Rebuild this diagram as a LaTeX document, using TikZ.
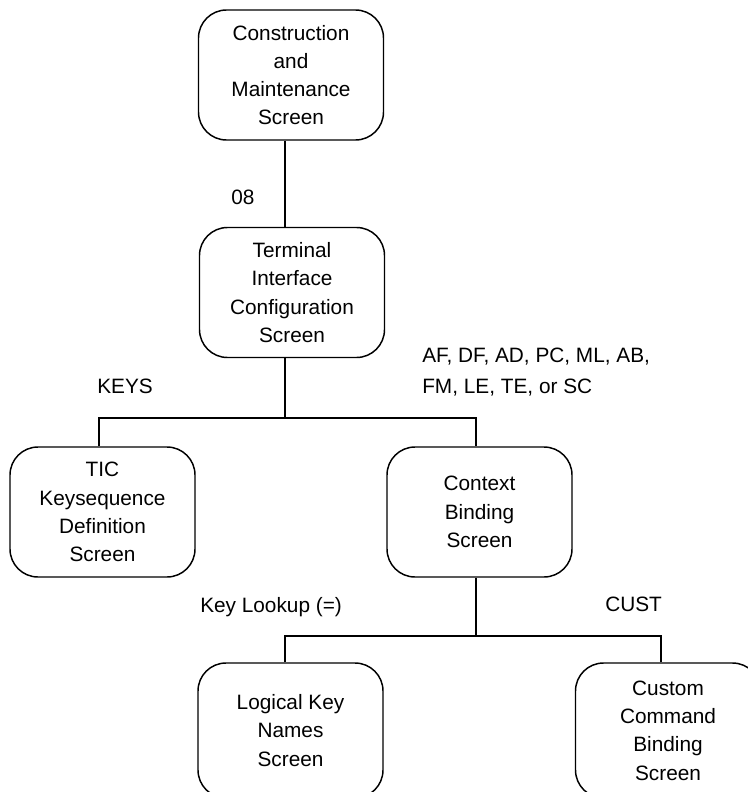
\documentclass[tikz,border=0pt]{standalone}
\usepackage{fontspec}
\setmainfont{Liberation Sans}
\begin{document}
\begin{tikzpicture}[x=0.75pt,y=-0.75pt,
  screenbox/.style={draw,line width=1.1pt,rounded corners=21pt,
    minimum width=138.75pt,minimum height=97.5pt,inner sep=0pt,
    align=center,font=\fontsize{15.6pt}{21.2pt}\selectfont},
  tallbox/.style={screenbox,minimum height=101.25pt},
  link/.style={line width=1.1pt},
  lbl/.style={inner sep=0pt,font=\fontsize{15.6pt}{23.25pt}\selectfont}]
\useasboundingbox (0,0) rectangle (747,792);
\fill[white] (0,0) rectangle (747,792);

% screens
\node[screenbox] (cms) at (291,75) {Construction\\and\\Maintenance\\Screen};
\node[screenbox] (tics) at (292,292.5) {Terminal\\Interface\\Configuration\\Screen};
\node[screenbox] (tkd) at (102.5,512) {TIC\\Keysequence\\Definition\\Screen};
\node[screenbox] (cbs) at (479.5,512) {Context\\Binding\\Screen};
\node[tallbox] (lkn) at (290.5,730.5) {Logical Key\\Names\\Screen};
\node[tallbox] (ccb) at (668,730.5) {Custom\\Command\\Binding\\Screen};

% branch points
\coordinate (j1) at (285,418);
\coordinate (j1l) at (99,418);
\coordinate (j1r) at (476,418);
\coordinate (j2) at (476,636);
\coordinate (j2l) at (285,636);
\coordinate (j2r) at (661,636);

% connectors
\draw[link] (cms.south -| j1) -- (tics.north -| j1);
\draw[link] (tics.south -| j1) -- (j1);
\draw[link] (tkd.north -| j1l) -- (j1l) -- (j1r) -- (cbs.north -| j1r);
\draw[link] (cbs.south -| j2) -- (j2);
\draw[link] (lkn.north -| j2l) -- (j2l) -- (j2r) -- (ccb.north -| j2r);

% option labels
\node[lbl,anchor=base west] (l08) at (231,204) {08};
\node[lbl,anchor=base west] (lkeys) at (97,393) {KEYS};
\node[lbl,anchor=north west,align=left] (lcodes) at (422,348) {AF, DF, AD, PC, ML, AB,\\FM, LE, TE, or SC};
\node[lbl,anchor=base west] (llook) at (200,612) {Key Lookup (=)};
\node[lbl,anchor=base west] (lcust) at (605,611) {CUST};
\end{tikzpicture}
\end{document}
